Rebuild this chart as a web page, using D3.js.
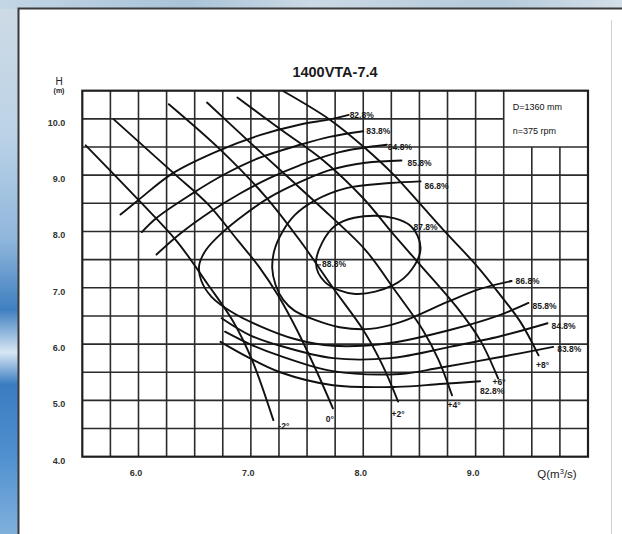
<!DOCTYPE html>
<html><head><meta charset="utf-8">
<script src="https://cdn.jsdelivr.net/npm/d3@7"></script>
<style>
html,body{margin:0;padding:0;background:#fff;overflow:hidden;}
svg{display:block;}
svg text{opacity:0.995;}
</style></head>
<body>
<svg id="chart" width="622" height="534"></svg>
<script>
// ---------------- data ----------------
const chartTitle = "1400VTA-7.4";
const infoLines = ["D=1360 mm", "n=375 rpm"];
const qTicks = [6.0, 7.0, 8.0, 9.0];
const hTicks = [4.0, 5.0, 6.0, 7.0, 8.0, 9.0, 10.0];
const yTitle = ["H", "(m)"];

// blade-angle head curves  [Q (m3/s), H (m)]
const angleNames = ["-2°", "0°", "+2°", "+4°", "+6°", "+8°"];
const angleM2 = [[5.53,9.53],[6.00,8.56],[6.34,7.83],[6.61,7.08],[6.84,6.41],[7.01,5.72],[7.20,4.65]];
const angle0  = [[5.78,9.99],[6.31,9.04],[6.62,8.48],[6.88,7.85],[7.07,7.38],[7.24,6.87],[7.41,6.25],[7.58,5.54],[7.73,4.86]];
const angleP2 = [[6.27,10.26],[6.73,9.45],[7.13,8.62],[7.44,7.83],[7.73,7.00],[8.00,6.25],[8.17,5.63],[8.31,4.98]];
const angleP4 = [[6.61,10.29],[6.96,9.64],[7.30,9.02],[7.70,8.29],[8.02,7.67],[8.28,6.96],[8.53,6.25],[8.67,5.72],[8.79,5.09]];
const angleP6 = [[6.88,10.38],[7.26,9.82],[7.64,9.27],[8.00,8.59],[8.26,7.97],[8.51,7.40],[8.83,6.66],[9.04,6.07],[9.20,5.39]];
const angleP8 = [[7.29,10.49],[7.70,9.99],[8.00,9.51],[8.27,9.01],[8.51,8.48],[8.74,7.97],[9.01,7.39],[9.22,6.87],[9.40,6.39],[9.56,5.80]];

// efficiency contours
const effNames = ["82.8%", "83.8%", "84.8%", "85.8%", "86.8%", "87.8%", "88.8%"];
const eff828Top = [[5.84,8.30],[6.00,8.56],[6.31,9.04],[6.73,9.45],[7.08,9.71],[7.44,9.90],[7.70,9.99],[7.87,10.07]];
const eff838Top = [[6.03,7.99],[6.16,8.24],[6.46,8.65],[6.77,9.02],[7.08,9.31],[7.44,9.54],[7.70,9.68],[8.00,9.78]];
const eff848Top = [[6.16,7.59],[6.37,7.96],[6.64,8.35],[6.90,8.67],[7.17,8.95],[7.44,9.18],[7.79,9.41],[8.21,9.54]];
const eff858    = [[8.34,9.26],[8.02,9.22],[7.70,9.09],[7.44,8.88],[7.17,8.61],[6.95,8.31],[6.74,7.97],[6.60,7.67],[6.54,7.40],[6.56,7.12],[6.65,6.84],[6.83,6.57],[7.08,6.32],[7.39,6.09],[7.73,5.97],[8.24,6.02],[8.77,6.25],[9.22,6.52],[9.47,6.73]];
const eff868    = [[8.51,8.89],[8.24,8.86],[7.85,8.77],[7.56,8.54],[7.39,8.29],[7.28,7.99],[7.21,7.67],[7.19,7.35],[7.22,7.05],[7.29,6.78],[7.39,6.59],[7.57,6.43],[7.79,6.30],[8.06,6.27],[8.33,6.39],[8.75,6.75],[9.04,6.98],[9.32,7.12]];
const eff878    = [[7.58,7.46],[7.75,8.10],[8.11,8.28],[8.42,8.10],[8.51,7.71],[8.43,7.32],[8.27,7.05],[7.93,6.89],[7.66,7.10]];
const eff848Bot = [[6.74,6.46],[6.99,6.16],[7.26,5.97],[7.73,5.75],[8.24,5.75],[8.77,5.95],[9.22,6.14],[9.64,6.37]];
const eff838Bot = [[6.77,6.22],[6.99,6.00],[7.26,5.79],[7.73,5.52],[8.33,5.47],[8.68,5.58],[9.22,5.77],[9.69,5.95]];
const eff828Bot = [[6.73,6.04],[6.99,5.75],[7.26,5.50],[7.73,5.27],[8.30,5.24],[8.68,5.29],[9.04,5.34]];

// ---------------- drawing ----------------
const W = 622, H = 534;
const svg = d3.select("#chart");
const NARROW = "'Liberation Sans Narrow','Arial Narrow','Liberation Sans',Arial,sans-serif";
const SANS = "'Liberation Sans',Arial,Helvetica,sans-serif";

// page background (photo-like frame)
const defs = svg.append("defs");
const gLeft = defs.append("linearGradient").attr("id","gl").attr("x1",0).attr("y1",0).attr("x2",0).attr("y2",1);
[[0,"#cfdbe5"],[0.25,"#bcd3e7"],[0.45,"#8fb6dc"],[0.58,"#3f7fc0"],[0.66,"#d8e7f4"],[0.72,"#3a7cc0"],[0.85,"#4f8fcf"],[1,"#7fb0dc"]]
  .forEach(([o,c]) => gLeft.append("stop").attr("offset",o).attr("stop-color",c));
const gTop = defs.append("linearGradient").attr("id","gt").attr("x1",0).attr("y1",0).attr("x2",1).attr("y2",0);
[[0,"#c3d6e5"],[0.3,"#a9c3d8"],[0.5,"#cbd9e4"],[0.8,"#b5cadb"],[1,"#d3dfe8"]]
  .forEach(([o,c]) => gTop.append("stop").attr("offset",o).attr("stop-color",c));
svg.append("rect").attr("x",0).attr("y",0).attr("width",W).attr("height",H).attr("fill","url(#gl)");
svg.append("rect").attr("x",0).attr("y",0).attr("width",W).attr("height",9).attr("fill","url(#gt)");
svg.append("rect").attr("x",18).attr("y",9).attr("width",W-18).attr("height",H-9).attr("fill","#ffffff");
svg.append("path").attr("d",`M18.5,${H} V8.5 H${W}`).attr("fill","none").attr("stroke","#3a3a3a").attr("stroke-width",2);
svg.append("line").attr("x1",611.5).attr("x2",611.5).attr("y1",20).attr("y2",H).attr("stroke","#d0d0d0").attr("stroke-width",1);

const x = d3.scaleLinear().domain([5.5, 10.0]).range([82.3, 588]);
const y = d3.scaleLinear().domain([4.0, 10.5]).range([456.7, 90.7]);

const grid = svg.append("g").attr("stroke","#2b2b2b").attr("stroke-width",1.6);
const qGrid = d3.range(23, 40).map(i => i / 4);   // 5.75 ... 9.75
const hGrid = d3.range(9, 21).map(i => i / 2);    // 4.5 ... 10.0
grid.selectAll("line.v").data(qGrid).join("line").attr("class","v")
  .attr("x1", d => x(d)).attr("x2", d => x(d))
  .attr("y1", y(4)).attr("y2", d => d > 9.3 ? y(9.5) : y(10.5));
grid.selectAll("line.h").data(hGrid).join("line").attr("class","h")
  .attr("y1", d => y(d)).attr("y2", d => y(d))
  .attr("x1", x(5.5)).attr("x2", d => d === 10 ? x(9.25) : x(10));
svg.append("rect").attr("x", x(5.5)).attr("y", y(10.5))
  .attr("width", x(10) - x(5.5)).attr("height", y(4) - y(10.5))
  .attr("fill","none").attr("stroke","#1e1e1e").attr("stroke-width",2.2);

// info box text
svg.selectAll("text.info").data(infoLines).join("text").attr("class","info")
  .attr("x", x(9.25) + 9).attr("y", (d,i) => y(10.5) + 19 + i*24)
  .attr("font-family", NARROW).attr("font-size", 9).attr("fill","#111").text(d => d);

// axes (labels only)
const yAxis = d3.axisLeft(y).tickValues(hTicks).tickSize(0).tickPadding(0).tickFormat(d3.format(".1f"));
const gy = svg.append("g").attr("transform", `translate(${x(5.5) - 17},3.5)`).call(yAxis);
gy.select(".domain").remove();
gy.selectAll("text").attr("font-family", NARROW).attr("font-size", 9).attr("font-weight","bold").attr("fill","#333");

const xAxis = d3.axisBottom(x).tickValues(qTicks).tickSize(0).tickPadding(0).tickFormat(d3.format(".1f"));
const gx = svg.append("g").attr("transform", `translate(-3,${y(4) + 13})`).call(xAxis);
gx.select(".domain").remove();
gx.selectAll("text").attr("font-family", NARROW).attr("font-size", 9).attr("font-weight","bold").attr("fill","#333");

const qLab = svg.append("text").attr("x", 557).attr("y", 478).attr("text-anchor","middle")
  .attr("font-family", SANS).attr("font-size", 11.5).attr("fill","#222");
qLab.append("tspan").text("Q(m");
qLab.append("tspan").attr("dy",-4).attr("font-size",7.5).text("3");
qLab.append("tspan").attr("dy",4).text("/s)");

svg.append("text").attr("x", 59).attr("y", 85).attr("text-anchor","middle")
  .attr("font-family", SANS).attr("font-size", 10).attr("fill","#222").text(yTitle[0]);
svg.append("text").attr("x", 59).attr("y", 92.5).attr("text-anchor","middle")
  .attr("font-family", NARROW).attr("font-size", 7).attr("font-weight","bold").attr("fill","#222").text(yTitle[1]);

svg.append("text").attr("x", 335).attr("y", 77).attr("text-anchor","middle")
  .attr("font-family", SANS).attr("font-size", 14.5).attr("font-weight","bold").attr("fill","#1a1a1a").text(chartTitle);

// curves
const lineGen = d3.line().x(d => x(d[0])).y(d => y(d[1])).curve(d3.curveCatmullRom.alpha(0.5));
const closedGen = d3.line().x(d => x(d[0])).y(d => y(d[1])).curve(d3.curveCatmullRomClosed.alpha(0.5));
const curveG = svg.append("g").attr("fill","none").attr("stroke","#111").attr("stroke-width",1.9)
  .attr("stroke-linecap","round").attr("stroke-linejoin","round");

const angleSeries = [angleM2, angle0, angleP2, angleP4, angleP6, angleP8];
curveG.selectAll("path.angle").data(angleSeries).join("path").attr("class","angle").attr("d", lineGen);

const openEff = [eff828Top, eff838Top, eff848Top, eff858, eff868, eff848Bot, eff838Bot, eff828Bot];
curveG.selectAll("path.eff").data(openEff).join("path").attr("class","eff").attr("d", lineGen);
curveG.append("path").datum(eff878).attr("d", closedGen);

// labels
const lab = svg.append("g").attr("font-family", NARROW).attr("font-size", 8.5)
  .attr("font-weight","bold").attr("fill","#1a1a1a");
function putLabel(pt, text, dx, dy, anchor) {
  lab.append("text").attr("x", x(pt[0]) + dx).attr("y", y(pt[1]) + dy)
    .attr("text-anchor", anchor || "start").attr("dominant-baseline","middle").text(text);
}
const last = a => a[a.length - 1];
// top-branch labels
putLabel(last(eff828Top), effNames[0], 1, 1);
putLabel(last(eff838Top), effNames[1], 3, 1);
putLabel(last(eff848Top), effNames[2], 1, 3);
putLabel(eff858[0], effNames[3], 6, 3);
putLabel(eff868[0], effNames[4], 4, 5);
putLabel(eff878[3], effNames[5], 3, 2);
// best efficiency point
lab.append("line").attr("x1", x(eff878[0][0]) + 1).attr("x2", x(eff878[0][0]) + 5)
  .attr("y1", y(eff878[0][1]) + 3).attr("y2", y(eff878[0][1]) + 3).attr("stroke","#111").attr("stroke-width",1);
putLabel(eff878[0], effNames[6], 6, 3);
// bottom-branch labels
putLabel(last(eff868), effNames[4], 4, 1);
putLabel(last(eff858), effNames[3], 4, 4);
putLabel(last(eff848Bot), effNames[2], 4, 3);
putLabel(last(eff838Bot), effNames[1], 4, 3);
putLabel(last(eff828Bot), effNames[0], 0, 11);
// angle labels
const angleLabelPos = [[5,7,"start"],[1,11,"end"],[0,13,"middle"],[2,10,"middle"],[1,4,"middle"],[4,10,"middle"]];
angleSeries.forEach((s, i) => {
  const p = angleLabelPos[i];
  putLabel(last(s), angleNames[i], p[0], p[1], p[2]);
});
</script>
</body></html>
